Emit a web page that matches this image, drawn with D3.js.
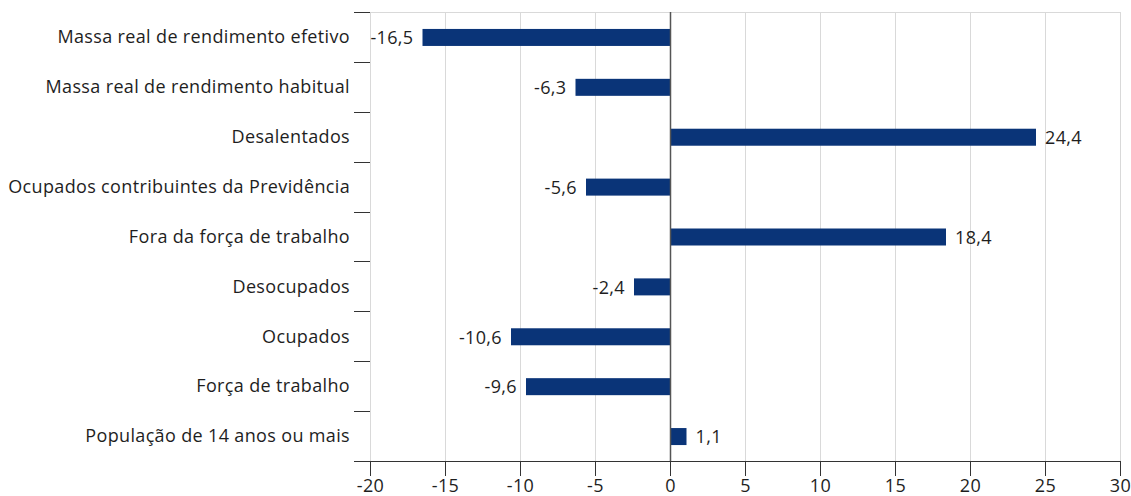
<!DOCTYPE html>
<html><head><meta charset="utf-8">
<script src="https://cdn.jsdelivr.net/npm/d3@7"></script>
<style>body{margin:0;background:#fff}svg{display:block}text{font-family:"Open Sans",sans-serif;fill:#1e1e1e;letter-spacing:0.35px}</style>
</head><body><svg id="c" width="1131" height="496"></svg>
<script>
const categories = ["Massa real de rendimento efetivo","Massa real de rendimento habitual","Desalentados","Ocupados contribuintes da Previdência","Fora da força de trabalho","Desocupados","Ocupados","Força de trabalho","População de 14 anos ou mais"];
const values = [-16.5,-6.3,24.4,-5.6,18.4,-2.4,-10.6,-9.6,1.1];
const valueLabels = ["-16,5","-6,3","24,4","-5,6","18,4","-2,4","-10,6","-9,6","1,1"];
const xTicks = [-20,-15,-10,-5,0,5,10,15,20,25,30];

const svg = d3.select("#c");
const m = {l:370, r:1120, t:12, b:461};
const fs = 18;
const x = d3.scaleLinear().domain([-20,30]).range([m.l,m.r]);
const y = d3.scaleBand().domain(categories).range([m.t,m.b]);

// grid
svg.append("g").selectAll("line").data(xTicks).join("line")
  .attr("x1",d=>x(d)+0.5).attr("x2",d=>x(d)+0.5).attr("y1",m.t).attr("y2",m.b)
  .attr("stroke","#d9d9d9").attr("stroke-width",1);
svg.append("line").attr("x1",m.l).attr("x2",m.r+1).attr("y1",m.t+0.5).attr("y2",m.t+0.5).attr("stroke","#d9d9d9");

// left category ticks
const bounds = categories.map(c=>y(c));
svg.append("g").selectAll("line").data(bounds).join("line")
  .attr("x1",354).attr("x2",m.l).attr("y1",d=>Math.round(d)+0.5).attr("y2",d=>Math.round(d)+0.5)
  .attr("stroke","#333");

// bars
const bh = 17;
svg.append("g").selectAll("rect").data(values).join("rect")
  .attr("x",d=>x(Math.min(0,d))).attr("width",d=>Math.abs(x(d)-x(0)))
  .attr("y",(d,i)=>y(categories[i])+y.bandwidth()/2-bh/2+0.5).attr("height",bh)
  .attr("fill","#0a3478");

// zero line
svg.append("line").attr("x1",x(0)+0.5).attr("x2",x(0)+0.5).attr("y1",m.t).attr("y2",m.b)
  .attr("stroke","#555").attr("stroke-width",1.5);

// bottom axis
const xa = svg.append("g").attr("transform",`translate(0,${m.b})`)
  .call(d3.axisBottom(x).tickValues(xTicks).tickSize(15).tickFormat(d=>d));
xa.select(".domain").remove();
xa.selectAll(".tick line").attr("stroke","#333");
xa.selectAll(".tick text").attr("font-size",fs).attr("fill","#1e1e1e")
  .style("font-family","'Open Sans',sans-serif").attr("y",31).attr("dy",0);
svg.append("line").attr("x1",354).attr("x2",m.r+1).attr("y1",m.b+0.5).attr("y2",m.b+0.5).attr("stroke","#333");

// category labels
svg.append("g").selectAll("text").data(categories).join("text")
  .attr("x",350).attr("y",d=>y(d)+y.bandwidth()/2).attr("dy","0.35em")
  .attr("text-anchor","end").attr("font-size",fs).text(d=>d);

// value labels
svg.append("g").selectAll("text").data(values).join("text")
  .attr("x",d=>d<0? x(d)-9 : x(d)+9)
  .attr("y",(d,i)=>y(categories[i])+y.bandwidth()/2+1).attr("dy","0.35em")
  .attr("text-anchor",d=>d<0?"end":"start").attr("font-size",fs)
  .text((d,i)=>valueLabels[i]);
</script></body></html>
